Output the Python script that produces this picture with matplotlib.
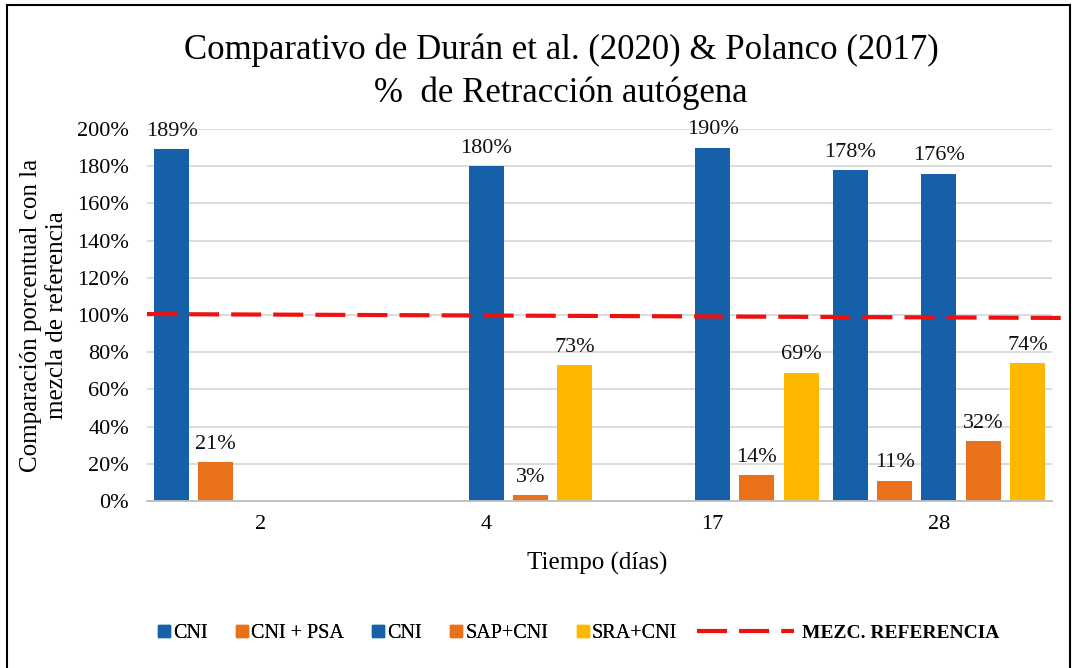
import matplotlib
matplotlib.use("Agg")
import matplotlib.pyplot as plt
import numpy as np
from matplotlib.lines import Line2D
from matplotlib.patches import Rectangle

plt.rcParams["font.family"] = ["Liberation Serif", "DejaVu Serif"]

DAYS = ["2", "4", "17", "28"]
SERIES = ["CNI", "CNI + PSA", "CNI", "SAP+CNI", "SRA+CNI"]
CNI_A = [189, np.nan, np.nan, 178]
CNI_PSA = [21, np.nan, np.nan, 11]
CNI_B = [np.nan, 180, 190, 176]
SAP_CNI = [np.nan, 3, 14, 32]
SRA_CNI = [np.nan, 73, 69, 74]
REF_LABEL = "MEZC. REFERENCIA"
REF_VALUES = [100.5, 98.4]

COLORS = ["#1660AA", "#E8711A", "#1660AA", "#E8711A", "#FFB800"]
RED = "#EE1111"

fig = plt.figure(figsize=(10.73, 6.68), dpi=100)
ax = fig.add_axes([147 / 1073, 167 / 668, 905 / 1073, 372 / 668])

x = np.arange(len(DAYS))
step = 0.1956
width = 0.155
values = [CNI_A, CNI_PSA, CNI_B, SAP_CNI, SRA_CNI]
for i, (vals, col) in enumerate(zip(values, COLORS)):
    xs = x + (i - 2) * step
    ax.bar(xs, vals, width=width, color=col, zorder=3)
    for xi, v in zip(xs, vals):
        if np.isnan(v):
            continue
        ax.annotate(f"{v:.0f}%", (xi, v), xytext=(0, 6), textcoords="offset points",
                    ha="center", va="bottom", fontsize=16, color="#111111",
                    annotation_clip=False, zorder=5)

# reference mix line
ref_x = [-0.5, 3.575]
ref_line, = ax.plot(ref_x, REF_VALUES, color=RED, lw=3, zorder=4, clip_on=False,
                    solid_capstyle="butt")
ref_line.set_dashes([7.2, 2.9])

ax.set_xlim(-0.5, 3.5)
ax.set_ylim(0, 200)
ax.set_yticks(np.arange(0, 201, 20))
ax.set_yticklabels([f"{t}%" for t in range(0, 201, 20)])
ax.set_xticks(x)
ax.set_xticklabels(DAYS)
ax.tick_params(axis="y", length=0, pad=13, labelsize=16)
ax.tick_params(axis="x", length=0, pad=10, labelsize=16)
ax.grid(axis="y", color="#D9D9D9", lw=1.3, zorder=0)
for s in ["top", "right", "left"]:
    ax.spines[s].set_visible(False)
ax.spines["bottom"].set_color("#BFBFBF")
ax.spines["bottom"].set_linewidth(1.3)
ax.spines["bottom"].set_zorder(3.5)

fig.text(0.523, 0.925, "Comparativo de Durán et al. (2020) & Polanco (2017)",
         ha="center", va="center", fontsize=25)
fig.text(0.523, 0.861, "%  de Retracción autógena", ha="center", va="center", fontsize=25)
fig.text(0.041, 0.528, "Comparación porcentual con la\nmezcla de referencia", rotation=90,
         ha="center", va="center", multialignment="center", fontsize=18, linespacing=1.25)
fig.text(0.557, 0.157, "Tiempo (días)", ha="center", va="center", fontsize=18)

# legend: square markers + dashed reference line
handles = [Line2D([], [], marker="s", ls="none", color=c, markersize=8) for c in COLORS]
leg1 = fig.legend(handles, SERIES, loc="center left", bbox_to_anchor=(0.14, 0.052),
                  ncol=5, frameon=False, fontsize=14.5, handlelength=0.6, handletextpad=0.15,
                  columnspacing=1.4, borderaxespad=0)
ref_handle = Line2D([], [], color=RED, lw=3)
ref_handle.set_dashes([7.2, 2.9])
leg2 = fig.legend([ref_handle], [REF_LABEL], loc="center left", bbox_to_anchor=(0.642, 0.052),
                  frameon=False, handlelength=5.0, handletextpad=0.4, borderaxespad=0,
                  prop={"size": 14, "weight": "bold"})
fig.add_artist(leg1)

fig.add_artist(Rectangle((7 / 1073, -0.01), 1063 / 1073, 663 / 668 + 0.01,
                         transform=fig.transFigure, fill=False, ec="black", lw=1.5))

fig.savefig("out.png", dpi=100)
